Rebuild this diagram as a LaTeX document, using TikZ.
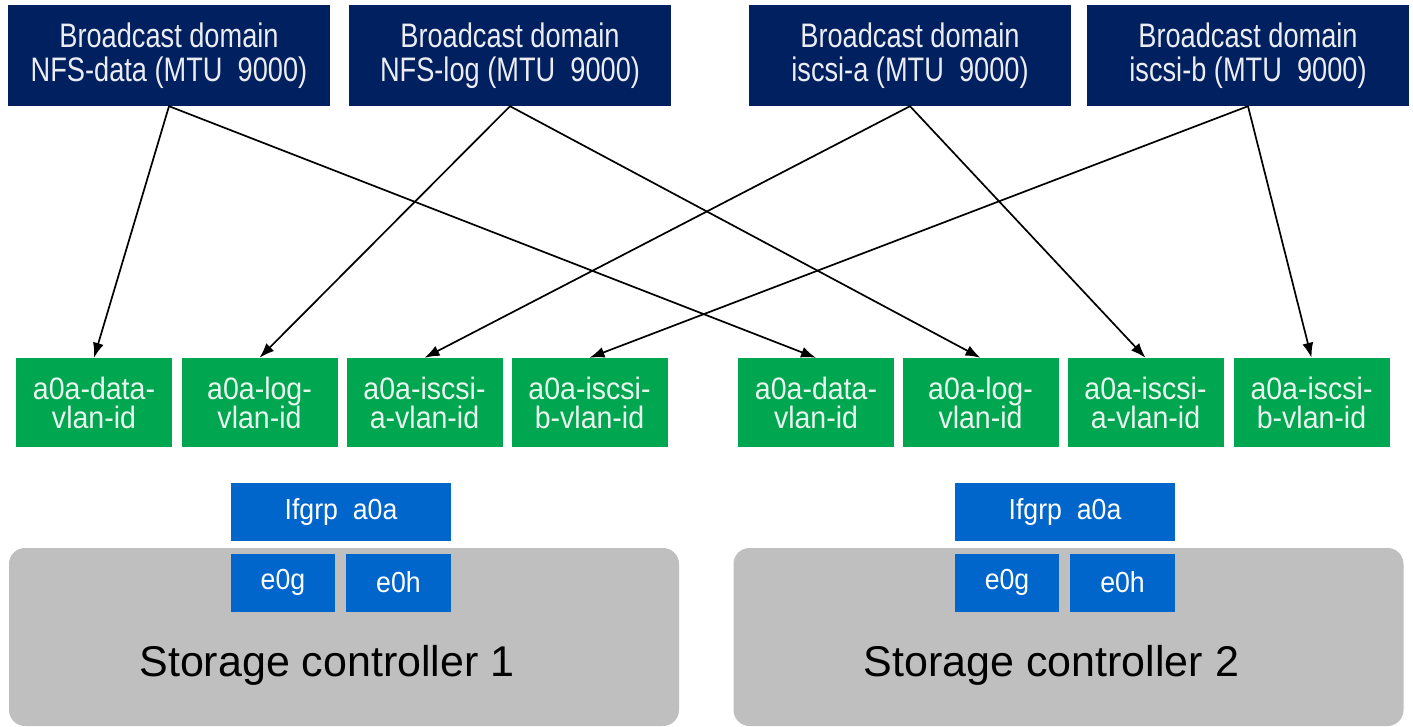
\documentclass[tikz,border=0pt]{standalone}
\usepackage{fontspec}
\setmainfont{Liberation Sans}
\newfontfamily\narrowsans{Liberation Sans}[FakeStretch=0.8]
\newfontfamily\vlansans{Liberation Sans}[FakeStretch=0.92]
\usetikzlibrary{arrows.meta}

\definecolor{domainblue}{RGB}{0,32,96}
\definecolor{vlangreen}{RGB}{0,166,80}
\definecolor{portblue}{RGB}{0,102,204}
\definecolor{ctrlgray}{RGB}{191,191,191}
\definecolor{paletext}{RGB}{232,246,238}

\tikzset{
  domainbox/.style={fill=domainblue, text=white!92!domainblue, inner sep=0pt, align=center,
    minimum width=322pt, minimum height=101pt,
    font=\narrowsans\fontsize{34}{34}\selectfont},
  vlanbox/.style={fill=vlangreen, text=paletext, inner sep=0pt, align=center,
    minimum width=156pt, minimum height=89pt,
    font=\vlansans\fontsize{31}{29}\selectfont},
  portbox/.style={fill=portblue, text=white, inner sep=0pt,
    minimum height=58pt, font=\vlansans\fontsize{29}{30}\selectfont},
  ctrlbox/.style={fill=ctrlgray, rounded corners=16pt, inner sep=0pt,
    minimum width=670pt, minimum height=178pt},
  ctrltext/.style={anchor=base, font=\fontsize{43}{45}\selectfont}
}

\begin{document}
\begin{tikzpicture}[x=1pt, y=-1pt, line cap=round, line join=round, >={Latex[length=15pt,width=11pt]}]
  \useasboundingbox (0,0) rectangle (1413,727);

  % Grey storage controllers
  \foreach \i/\x in {1/344, 2/1068.5} {
    \node[ctrlbox] (ctrl\i) at (\x,637) {};
    \node[ctrltext] (ctrltext\i) at (\x-17,676) {Storage controller \i};
  }

  % Interface group and physical ports
  \foreach \i/\x in {1/341, 2/1065} {
    \node[portbox, minimum width=220pt] (ifgrp\i) at (\x,512) {Ifgrp\ \ a0a};
    \node[portbox, minimum width=104pt] (eg\i) at (\x-58,582.5) {e0g};
    \node[portbox, minimum width=105pt] (eh\i) at (\x+57.5,582.5) {e0h};
  }

  % VLAN ports
  \foreach \n/\x/\t in {1/94/{a0a-data-\\vlan-id}, 2/259.5/{a0a-log-\\vlan-id},
      3/424.5/{a0a-iscsi-\\a-vlan-id}, 4/589.5/{a0a-iscsi-\\b-vlan-id},
      5/816/{a0a-data-\\vlan-id}, 6/980.5/{a0a-log-\\vlan-id},
      7/1145.5/{a0a-iscsi-\\a-vlan-id}, 8/1311.5/{a0a-iscsi-\\b-vlan-id}} {
    \node[vlanbox] (vlan\n) at (\x,402.5) {\t};
  }

  % Broadcast domains
  \foreach \d/\x/\t in {data/169/NFS-data, log/510/NFS-log, iscsia/910/iscsi-a, iscsib/1248/iscsi-b} {
    \node[domainbox] (bd\d) at (\x,55.5) {Broadcast domain\\\t\ (MTU\ \ 9000)};
  }

  % Each domain goes to one VLAN port per controller
  \foreach \d/\a/\b in {data/1/5, log/2/6, iscsia/3/7, iscsib/4/8} {
    \draw[->, line width=1.7pt] (bd\d.south) -- (vlan\a.north);
    \draw[->, line width=1.7pt] (bd\d.south) -- (vlan\b.north);
  }
\end{tikzpicture}
\end{document}
